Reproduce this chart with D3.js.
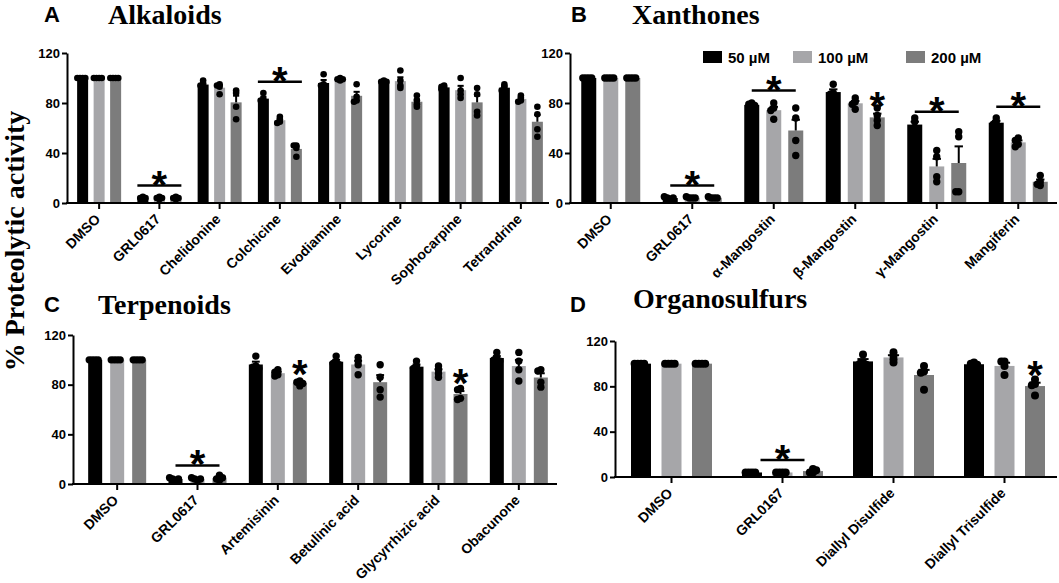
<!DOCTYPE html>
<html>
<head>
<meta charset="utf-8">
<script src="https://cdn.jsdelivr.net/npm/d3@7"></script>
<style>
  body { margin: 0; background: #fff; }
  svg { display: block; }
  .tick text { font-family: "Liberation Sans", Arial, sans-serif; font-weight: bold; fill: #000; }
</style>
</head>
<body>
<svg id="chart" width="1059" height="583"></svg>
<script>
// concentrations (legend)
const concLabels = ["50 µM", "100 µM", "200 µM"];
const yTicks = [0, 40, 80, 120];

// A - alkaloids, 4 replicates per bar
const alkCats = ["DMSO", "GRL0617", "Chelidonine", "Colchicine", "Evodiamine", "Lycorine", "Sophocarpine", "Tetrandrine"];
const alk50 = [[100, 100, 100, 100], [3, 4, 4, 5], [98, 95, 94, 92], [88, 83, 82, 81], [103, 95, 94, 92], [98, 97, 97, 96], [94, 93, 92, 91], [95, 93, 91, 90]];
const alk100 = [[100, 100, 100, 100], [3, 4, 4, 5], [95, 94, 93, 87], [69, 67, 65, 64], [100, 99, 99, 98], [106, 98, 94, 92], [100, 90, 87, 84], [86, 84, 82, 81]];
const alk200 = [[100, 100, 100, 100], [3, 4, 4, 5], [90, 88, 77, 67], [46, 46, 44, 37], [95, 85, 82, 81], [86, 82, 79, 77], [92, 87, 73, 70], [77, 71, 59, 53]];
const alkLineSig = [{ cat: "GRL0617", v: 14 }, { cat: "Colchicine", v: 97 }];
const alkStarSig = [];

// B - xanthones
const xanCats = ["DMSO", "GRL0617", "α-Mangostin", "β-Mangostin", "γ-Mangostin", "Mangiferin"];
const xan50 = [[100, 100, 100, 100], [3, 4, 4, 5], [80, 79, 78, 77], [95, 88, 87, 85], [68, 65, 60, 58], [68, 65, 63, 61]];
const xan100 = [[100, 100, 100, 100], [4, 4, 4, 5], [80, 76, 74, 67], [84, 81, 79, 75], [42, 37, 21, 17], [52, 50, 47, 45]];
const xan200 = [[100, 100, 100, 100], [4, 4, 4, 5], [76, 68, 50, 38], [76, 70, 66, 62], [57, 53, 9, 9], [22, 17, 15, 14]];
const xanLineSig = [{ cat: "GRL0617", v: 14 }, { cat: "α-Mangostin", v: 90 }, { cat: "γ-Mangostin", v: 73 }, { cat: "Mangiferin", v: 77 }];
const xanStarSig = [{ cat: "β-Mangostin", s: 2, v: 84 }];

// C - terpenoids
const terCats = ["DMSO", "GRL0617", "Artemisinin", "Betulinic acid", "Glycyrrhizic acid", "Obacunone"];
const ter50 = [[100, 100, 100, 100], [3, 4, 4, 5], [103, 95, 94, 93], [103, 98, 97, 96], [99, 95, 93, 91], [106, 101, 100, 99]];
const ter100 = [[100, 100, 100, 100], [3, 4, 4, 5], [92, 90, 88, 87], [102, 99, 96, 88], [95, 92, 89, 86], [106, 99, 92, 83]];
const ter200 = [[100, 100, 100, 100], [3, 4, 5, 7], [83, 82, 81, 79], [96, 86, 76, 70], [77, 76, 69, 68], [92, 91, 82, 78]];
const terLineSig = [{ cat: "GRL0617", v: 15 }];
const terStarSig = [{ cat: "Artemisinin", s: 2, v: 95 }, { cat: "Glycyrrhizic acid", s: 2, v: 88 }];

// D - organosulfurs
const orgCats = ["DMSO", "GRL0167", "Diallyl Disulfide", "Diallyl Trisulfide"];
const org50 = [[100, 100, 100, 100], [4, 4, 4, 4], [108, 101, 100, 99], [101, 100, 99, 98]];
const org100 = [[100, 100, 100, 100], [4, 4, 4, 4], [110, 107, 104, 101], [102, 102, 98, 90]];
const org200 = [[100, 100, 100, 100], [4, 4, 6, 7], [98, 93, 92, 77], [86, 82, 81, 72]];
const orgLineSig = [{ cat: "GRL0167", v: 15 }];
const orgStarSig = [{ cat: "Diallyl Trisulfide", s: 2, v: 97 }];

const colors = ["#000000", "#a6a6a9", "#7c7c7c"];
const sans = "'Liberation Sans', Arial, sans-serif";
const serif = "'Liberation Serif', 'Times New Roman', serif";

const svg = d3.select("#chart");

const panels = [
  { letter: "A", title: "Alkaloids", cats: alkCats, series: [alk50, alk100, alk200], lineSig: alkLineSig, starSig: alkStarSig,
    x0: 67, xEnd: 549, band: [69, 551], yr: [203, 53], barW: 11, off: 16.5, r: 3.3,
    letterPos: [44, 22], titlePos: [108, 24] },
  { letter: "B", title: "Xanthones", cats: xanCats, series: [xan50, xan100, xan200], lineSig: xanLineSig, starSig: xanStarSig,
    x0: 570, xEnd: 1057, band: [570, 1059], yr: [203, 53], barW: 15, off: 22, r: 3.7,
    letterPos: [571, 22], titlePos: [632, 24] },
  { letter: "C", title: "Terpenoids", cats: terCats, series: [ter50, ter100, ter200], lineSig: terLineSig, starSig: terStarSig,
    x0: 73, xEnd: 557, band: [77, 559], yr: [484, 335], barW: 14, off: 22, r: 3.7,
    letterPos: [44, 312], titlePos: [98, 314] },
  { letter: "D", title: "Organosulfurs", cats: orgCats, series: [org50, org100, org200], lineSig: orgLineSig, starSig: orgStarSig,
    x0: 615, xEnd: 1057, band: [616, 1060], yr: [477, 341], barW: 20, off: 30.5, r: 4,
    letterPos: [570, 312], titlePos: [633, 308] }
];

// place replicate dots side by side when they overlap
function spread(vals, y, r) {
  const placed = [];
  const cands = [0];
  for (let k = 1; k < 6; k++) cands.push(-k * r * 0.8, k * r * 0.8);
  return vals.map(v => {
    const py = y(v);
    let dx = cands.find(c => placed.every(p => Math.hypot(p.dx - c, p.py - py) >= r * 0.75));
    if (dx === undefined) dx = 0;
    placed.push({ dx, py });
    return { dx, py };
  });
}

function star(g, cx, cy) {
  g.append("text")
    .attr("x", cx).attr("y", cy + 22)
    .attr("text-anchor", "middle")
    .style("font-family", sans).style("font-weight", "bold").style("font-size", "40px")
    .text("*");
}

function drawPanel(p) {
  const x = d3.scaleBand().domain(p.cats).range(p.band);
  const y = d3.scaleLinear().domain([0, 120]).range(p.yr);
  const cx = c => x(c) + x.bandwidth() / 2;
  const g = svg.append("g");

  p.series.forEach((ser, si) => {
    const off = (si - 1) * p.off;
    const stats = ser.map((vals, i) => ({
      cat: p.cats[i], vals,
      mean: d3.mean(vals),
      sem: (d3.deviation(vals) || 0) / Math.sqrt(vals.length)
    }));
    const sg = g.append("g");
    sg.selectAll("rect").data(stats).join("rect")
      .attr("x", d => cx(d.cat) + off - p.barW / 2)
      .attr("y", d => y(d.mean))
      .attr("width", p.barW)
      .attr("height", d => y(0) - y(d.mean))
      .attr("fill", colors[si]);
    // mean + SEM
    const eb = sg.selectAll("g.eb").data(stats.filter(d => d.sem > 0)).join("g").attr("class", "eb");
    eb.append("line")
      .attr("x1", d => cx(d.cat) + off).attr("x2", d => cx(d.cat) + off)
      .attr("y1", d => y(d.mean)).attr("y2", d => y(d.mean + d.sem))
      .attr("stroke", "#000").attr("stroke-width", 2);
    eb.append("line")
      .attr("x1", d => cx(d.cat) + off - p.barW * 0.28).attr("x2", d => cx(d.cat) + off + p.barW * 0.28)
      .attr("y1", d => y(d.mean + d.sem)).attr("y2", d => y(d.mean + d.sem))
      .attr("stroke", "#000").attr("stroke-width", 2);
    // replicate dots
    stats.forEach(d => {
      sg.append("g").selectAll("circle").data(spread(d.vals, y, p.r)).join("circle")
        .attr("cx", q => cx(d.cat) + off + q.dx)
        .attr("cy", q => q.py)
        .attr("r", p.r)
        .attr("fill", "#000");
    });
  });

  // y axis
  const ya = g.append("g").attr("transform", `translate(${p.x0},0)`)
    .call(d3.axisLeft(y).tickValues(yTicks).tickSize(5).tickSizeOuter(0).tickPadding(2));
  ya.select(".domain").attr("stroke-width", 2);
  ya.selectAll(".tick line").attr("stroke-width", 2);
  ya.selectAll(".tick text").style("font-size", "13px");

  // x axis
  const xa = g.append("g").attr("transform", `translate(0,${y(0)})`)
    .call(d3.axisBottom(x).tickSize(6).tickSizeOuter(0));
  xa.select(".domain").remove();
  xa.selectAll(".tick line").attr("stroke-width", 2);
  xa.selectAll(".tick text")
    .attr("x", null).attr("y", null).attr("dy", null)
    .attr("transform", "translate(2,17) rotate(-45)")
    .attr("text-anchor", "end")
    .style("font-size", "14px");
  g.append("line")
    .attr("x1", p.x0 - 1).attr("x2", p.xEnd)
    .attr("y1", y(0)).attr("y2", y(0))
    .attr("stroke", "#000").attr("stroke-width", 2);

  // significance
  p.lineSig.forEach(s => {
    g.append("line")
      .attr("x1", cx(s.cat) - 22).attr("x2", cx(s.cat) + 22)
      .attr("y1", y(s.v)).attr("y2", y(s.v))
      .attr("stroke", "#000").attr("stroke-width", 2.5);
    star(g, cx(s.cat), y(s.v) - 9);
  });
  p.starSig.forEach(s => star(g, cx(s.cat) + (s.s - 1) * p.off, y(s.v)));

  // panel letter and title
  g.append("text").attr("x", p.letterPos[0]).attr("y", p.letterPos[1])
    .style("font-family", sans).style("font-weight", "bold").style("font-size", "22px")
    .text(p.letter);
  g.append("text").attr("x", p.titlePos[0]).attr("y", p.titlePos[1])
    .style("font-family", serif).style("font-weight", "bold").style("font-size", "28px")
    .text(p.title);
}

panels.forEach(drawPanel);

// legend (panel B)
const legX = [703, 793, 906];
const legend = svg.append("g");
concLabels.forEach((lab, i) => {
  legend.append("rect").attr("x", legX[i]).attr("y", 51).attr("width", 19).attr("height", 12).attr("fill", colors[i]);
  legend.append("text").attr("x", legX[i] + 25).attr("y", 63)
    .style("font-family", sans).style("font-weight", "bold").style("font-size", "15px")
    .text(lab);
});

// shared y title
svg.append("text")
  .attr("transform", "translate(24,241) rotate(-90)")
  .attr("text-anchor", "middle")
  .style("font-family", serif).style("font-weight", "bold").style("font-size", "28px")
  .text("% Proteolytic activity");
</script>
</body>
</html>
